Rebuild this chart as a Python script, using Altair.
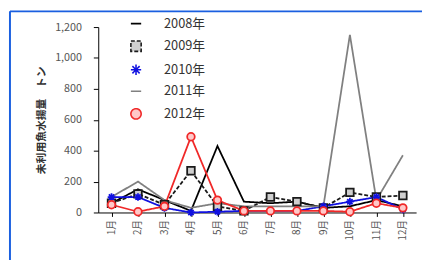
import altair as alt
import pandas as pd

months = ["1月", "2月", "3月", "4月", "5月", "6月", "7月", "8月", "9月", "10月", "11月", "12月"]
series = ["2008年", "2009年", "2010年", "2011年", "2012年"]
v2008 = [60, 150, 80, 10, 430, 70, 60, 70, 30, 40, 80, 40]
v2009 = [60, 120, 50, 270, 40, 10, 100, 70, 30, 130, 100, 110]
v2010 = [100, 100, 30, 0, 5, 10, 10, 10, 40, 70, 100, 20]
v2011 = [100, 200, 80, 30, 60, 40, 40, 40, 40, 1150, 80, 370]
v2012 = [50, 5, 40, 490, 80, 10, 10, 10, 10, 5, 60, 30]

strokes = ["#000000", "#1a1a1a", "#1010e0", "#808080", "#f02828"]
fills = ["transparent", "#cfcfcf", "transparent", "transparent", "#ffc8c8"]
dashes = [[1, 0], [4, 2], [1, 0], [1, 0], [1, 0]]
asterisk = "M-1,0H1M0,-1V1M-0.7,-0.7L0.7,0.7M-0.7,0.7L0.7,-0.7"
shapes = ["stroke", "square", asterisk, "stroke", "circle"]

rows = []
for name, vals in zip(series, [v2008, v2009, v2010, v2011, v2012]):
    for i, (m, v) in enumerate(zip(months, vals)):
        rows.append({"月": m, "series": name, "value": v, "order": i})
df = pd.DataFrame(rows)

font = "Noto Sans CJK JP"
xenc = alt.X("月:N", sort=months, scale=alt.Scale(padding=0.5),
             axis=alt.Axis(title=None, labelAngle=270, labelAlign="right", labelBaseline="middle",
                           labelFontSize=10, labelColor="#555", ticks=True, tickSize=4,
                           domainColor="#000", tickColor="#000", labelPadding=3, labelFont=font))
yenc = alt.Y("value:Q", scale=alt.Scale(domain=[0, 1200], nice=False),
             axis=alt.Axis(title="未利用魚水揚量　トン", values=[0, 200, 400, 600, 800, 1000, 1200],
                           format=",.0f", grid=False, labelFontSize=11, labelColor="#555",
                           domainColor="#000", tickColor="#000", tickSize=5, labelPadding=12,
                           titleFontSize=11, titleFontWeight="bold", titleColor="#333",
                           titlePadding=8, labelFont=font, titleFont=font))

leg = alt.Legend(title=None, orient="none", legendX=32, legendY=-10, labelFontSize=13,
                 labelColor="#333", symbolSize=110, rowPadding=7, labelFont=font,
                 symbolStrokeWidth=1.6, labelOffset=22)
stroke_scale = alt.Scale(domain=series, range=strokes)

lines = alt.Chart(df).mark_line(strokeWidth=1.8).encode(
    x=xenc, y=yenc,
    stroke=alt.Stroke("series:N", scale=stroke_scale, legend=leg),
    strokeDash=alt.StrokeDash("series:N", scale=alt.Scale(domain=series, range=dashes), legend=leg),
    order="order:Q",
)
points = alt.Chart(df).mark_point(size=60, strokeWidth=1.8, filled=False).encode(
    x=xenc, y=yenc,
    stroke=alt.Stroke("series:N", scale=stroke_scale, legend=leg),
    fill=alt.Fill("series:N", scale=alt.Scale(domain=series, range=fills), legend=leg),
    shape=alt.Shape("series:N", scale=alt.Scale(domain=series, range=shapes), legend=leg),
    opacity=alt.condition("datum.series === '2008年' || datum.series === '2011年'",
                          alt.value(0), alt.value(1)),
)

border_top = alt.Chart(pd.DataFrame({"a": [0]})).mark_rule(color="#1a5fe0", strokeWidth=2).encode(
    x=alt.value(-90), x2=alt.value(340), y=alt.value(-16))
border_left = alt.Chart(pd.DataFrame({"a": [0]})).mark_rule(color="#1a5fe0", strokeWidth=2).encode(
    x=alt.value(-90), y=alt.value(-16), y2=alt.value(250))

chart = alt.layer(border_top, border_left, lines, points).properties(
    width=324, height=189,
    autosize=alt.AutoSizeParams(type="none"),
    padding={"left": 92, "top": 17, "right": 6, "bottom": 46},
    background="white",
).configure_view(stroke=None)

chart.save("out.html", embed_options={"renderer": "svg", "actions": False})
